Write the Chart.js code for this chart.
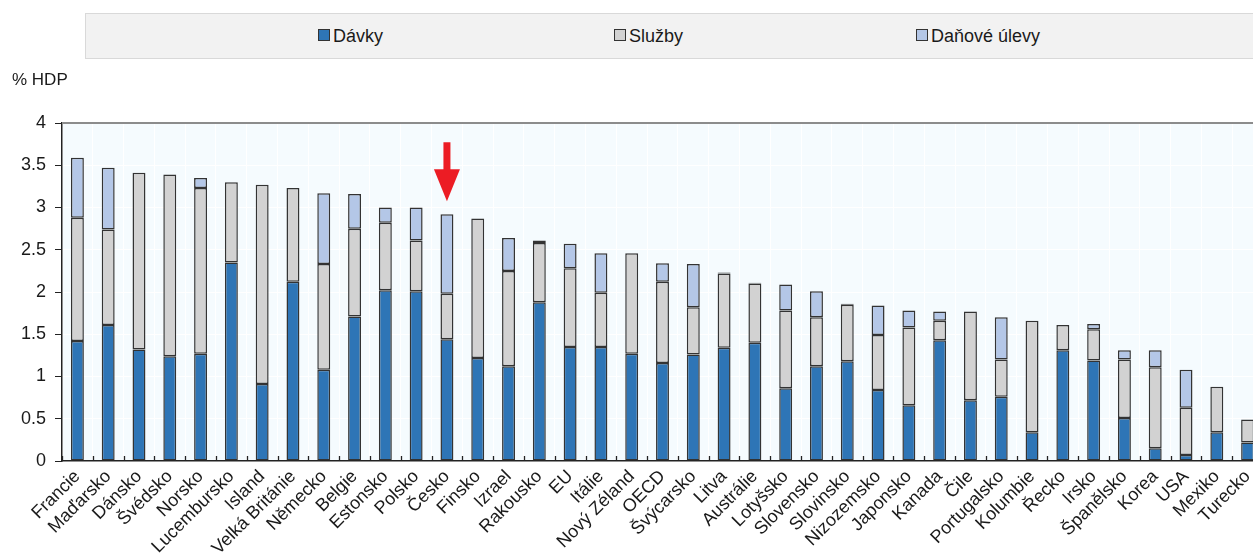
<!DOCTYPE html>
<html>
<head>
<meta charset="utf-8">
<script src="https://cdn.jsdelivr.net/npm/chart.js@4/dist/chart.umd.min.js"></script>
<style>
  html, body { margin: 0; padding: 0; background: #fff; overflow: hidden; width: 1253px; height: 556px; }
  #wrap { position: absolute; left: 0; top: 0; width: 1272px; height: 556px; }
  #c { position: absolute; left: 0; top: 0; }
  .legend { position: absolute; left: 85px; top: 13px; width: 1200px; height: 44px; background: #F2F2F2; border: 1px solid #D9D9D9; font-family: "Liberation Sans", Arial, sans-serif; font-size: 18px; color: #1a1a1a; }
  .li { position: absolute; top: 0; height: 44px; line-height: 44px; white-space: nowrap; }
  .mk { display: inline-block; width: 10px; height: 10px; border: 1px solid #333; vertical-align: middle; margin-right: 3px; position: relative; top: -2px; }
  .unit { position: absolute; left: 12px; top: 70px; font-family: "Liberation Sans", Arial, sans-serif; font-size: 17px; color: #1a1a1a; }
</style>
</head>
<body>
<div id="wrap">
  <canvas id="c" width="1272" height="556" style="width:1272px;height:556px"></canvas>
  <div class="legend" id="legend"></div>
  <div class="unit">% HDP</div>
</div>
<script>
const categories = ["Francie","Maďarsko","Dánsko","Švédsko","Norsko","Lucembursko","Island","Velká Británie","Německo","Belgie","Estonsko","Polsko","Česko","Finsko","Izrael","Rakousko","EU","Itálie","Nový Zéland","OECD","Švýcarsko","Litva","Austrálie","Lotyšsko","Slovensko","Slovinsko","Nizozemsko","Japonsko","Kanada","Čile","Portugalsko","Kolumbie","Řecko","Irsko","Španělsko","Korea","USA","Mexiko","Turecko"];
const davky  = [1.42,1.61,1.32,1.24,1.27,2.35,0.91,2.12,1.08,1.71,2.02,2.01,1.44,1.22,1.12,1.88,1.35,1.35,1.27,1.16,1.26,1.34,1.40,0.86,1.12,1.18,0.84,0.66,1.43,0.72,0.76,0.34,1.31,1.19,0.51,0.15,0.07,0.34,0.22];
const sluzby = [1.46,1.13,2.09,2.15,1.96,0.95,2.36,1.11,1.25,1.04,0.80,0.60,0.54,1.65,1.13,0.70,0.93,0.64,1.19,0.96,0.56,0.88,0.70,0.92,0.58,0.67,0.65,0.92,0.23,1.05,0.44,1.32,0.30,0.37,0.69,0.96,0.56,0.54,0.27];
const danoveUlevy = [0.71,0.73,0,0,0.12,0,0,0,0.84,0.41,0.18,0.39,0.94,0,0.39,0.03,0.29,0.47,0,0.22,0.51,0.01,0.01,0.31,0.31,0.01,0.35,0.20,0.11,0,0.50,0,0,0.06,0.11,0.20,0.45,0,0];
const seriesNames = ["Dávky","Služby","Daňové úlevy"];
const seriesColors = ["#2E75B6","#D2D2D2","#B4C7E7"];
const yTicks = [0,0.5,1,1.5,2,2.5,3,3.5,4];
const highlighted = "Česko";

// legend (HTML)
const legendPos = [318, 614, 916];
const leg = document.getElementById('legend');
seriesNames.forEach((n, i) => {
  const d = document.createElement('div');
  d.className = 'li';
  d.style.left = (legendPos[i] - 86) + 'px';
  d.innerHTML = '<span class="mk" style="background:' + seriesColors[i] + '"></span>' + n;
  leg.appendChild(d);
});

const FONT = '"Liberation Sans", Arial, sans-serif';
const nz = a => a.map(v => v === 0 ? null : v);

const bgPlugin = {
  id: 'bg',
  beforeDraw(chart) {
    const {ctx, chartArea: a} = chart;
    ctx.save();
    ctx.fillStyle = '#F5FBFE';
    ctx.fillRect(a.left, a.top, a.right - a.left, a.bottom - a.top);
    ctx.restore();
  },
  afterDatasetsDraw(chart) {
    const {ctx, chartArea: a, scales} = chart;
    const xs = scales.x, ys = scales.y;
    ctx.save();
    // top border
    ctx.strokeStyle = '#8C8C8C';
    ctx.lineWidth = 2;
    ctx.beginPath();
    ctx.moveTo(a.left, a.top); ctx.lineTo(a.right, a.top);
    ctx.stroke();
    // inner ticks at category boundaries
    ctx.strokeStyle = '#222';
    ctx.lineWidth = 1.3;
    for (let i = 0; i <= categories.length; i++) {
      const x = Math.round(xs.getPixelForValue(i - 0.5)) + 0.5;
      ctx.beginPath();
      ctx.moveTo(x, a.bottom); ctx.lineTo(x, a.bottom - 5);
      ctx.stroke();
    }
    // red arrow above highlighted country
    const idx = categories.indexOf(highlighted);
    if (idx >= 0) {
      const total = davky[idx] + sluzby[idx] + danoveUlevy[idx];
      const cx = xs.getPixelForValue(idx);
      const tip = ys.getPixelForValue(total) - 13;
      ctx.fillStyle = '#EC1C24';
      ctx.fillRect(cx - 3.5, tip - 59, 7, 28);
      ctx.beginPath();
      ctx.moveTo(cx - 13, tip - 32);
      ctx.lineTo(cx + 13, tip - 32);
      ctx.lineTo(cx, tip);
      ctx.closePath();
      ctx.fill();
    }
    ctx.restore();
  }
};

new Chart(document.getElementById('c'), {
  type: 'bar',
  data: {
    labels: categories,
    datasets: [
      { label: seriesNames[0], data: nz(davky), backgroundColor: seriesColors[0] },
      { label: seriesNames[1], data: nz(sluzby), backgroundColor: seriesColors[1] },
      { label: seriesNames[2], data: nz(danoveUlevy), backgroundColor: seriesColors[2] }
    ].map(d => Object.assign(d, { borderColor: '#333333', borderWidth: 1.5, borderSkipped: false, barPercentage: 0.42, categoryPercentage: 1 }))
  },
  options: {
    responsive: false,
    animation: false,
    devicePixelRatio: 1,
    layout: { padding: { top: 123, right: 9, left: 0, bottom: 0 } },
    plugins: { legend: { display: false }, tooltip: { enabled: false }, title: { display: false } },
    scales: {
      x: {
        stacked: true,
        offset: true,
        grid: { offset: true, color: '#FFFFFF', lineWidth: 1, drawTicks: false },
        border: { display: true, color: '#222', width: 1.5 },
        ticks: { autoSkip: false, maxRotation: 45, minRotation: 45, padding: 5, color: '#1a1a1a', font: { family: FONT, size: 18 } },
        afterFit(s) { s.height = 95; }
      },
      y: {
        stacked: true,
        min: 0, max: 4,
        afterBuildTicks(s) { s.ticks = yTicks.map(v => ({ value: v })); },
        grid: { color: '#FFFFFF', lineWidth: 1, drawTicks: true, tickLength: 7, tickColor: '#222' },
        border: { display: true, color: '#222', width: 1.5 },
        ticks: { padding: 9, color: '#1a1a1a', font: { family: FONT, size: 18 }, callback: v => String(v) },
        afterFit(s) { s.width = 62; }
      }
    }
  },
  plugins: [bgPlugin]
});
</script>
</body>
</html>
